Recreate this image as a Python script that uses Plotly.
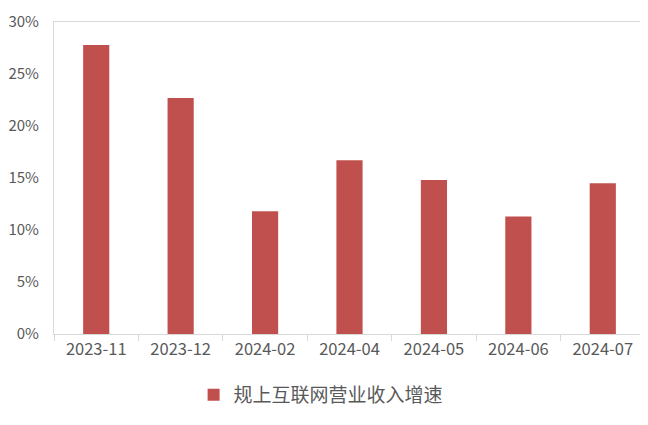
import plotly.graph_objects as go

categories = ["2023-11", "2023-12", "2024-02", "2024-04", "2024-05", "2024-06", "2024-07"]
growth = [0.278, 0.227, 0.118, 0.167, 0.148, 0.113, 0.145]
series_name = "规上互联网营业收入增速"
y_ticks = [0, 0.05, 0.10, 0.15, 0.20, 0.25, 0.30]
y_tick_labels = ["0%", "5%", "10%", "15%", "20%", "25%", "30%"]

font_family = "Noto Sans CJK SC, Open Sans, sans-serif"

fig = go.Figure()
fig.add_trace(go.Bar(
    x=categories, y=growth, name=series_name,
    marker=dict(color="#C0504D", line=dict(width=0)),
    width=0.31, showlegend=True,
))

# page body has an 8px margin, so the figure is drawn at (8, 8)
fig.update_layout(
    width=640, height=409,
    margin=dict(l=46, r=3, t=14, b=83, autoexpand=False),
    paper_bgcolor="white", plot_bgcolor="white",
    font=dict(family=font_family, size=16, color="#595959"),
    showlegend=True,
    legend=dict(orientation="h", xref="container", yref="container",
                x=0.29, xanchor="left", y=0.054, yanchor="middle",
                font=dict(size=19, color="#595959"), itemwidth=30),
)
fig.update_xaxes(
    type="category", showline=True, linecolor="#D9D9D9", linewidth=1.3, mirror=True,
    ticks="outside", tickson="boundaries", ticklen=6, tickcolor="#D9D9D9",
    showgrid=False, tickfont=dict(size=16.5, color="#595959"), automargin=False,
)
fig.update_yaxes(
    range=[0, 0.30], tickvals=y_ticks, ticktext=y_tick_labels,
    showline=True, linecolor="#D9D9D9", linewidth=1.3, mirror=True,
    showgrid=False, zeroline=False, ticks="", ticklabelstandoff=11,
    tickfont=dict(size=15, color="#595959"), automargin=False,
)

fig.write_html("out.html")
